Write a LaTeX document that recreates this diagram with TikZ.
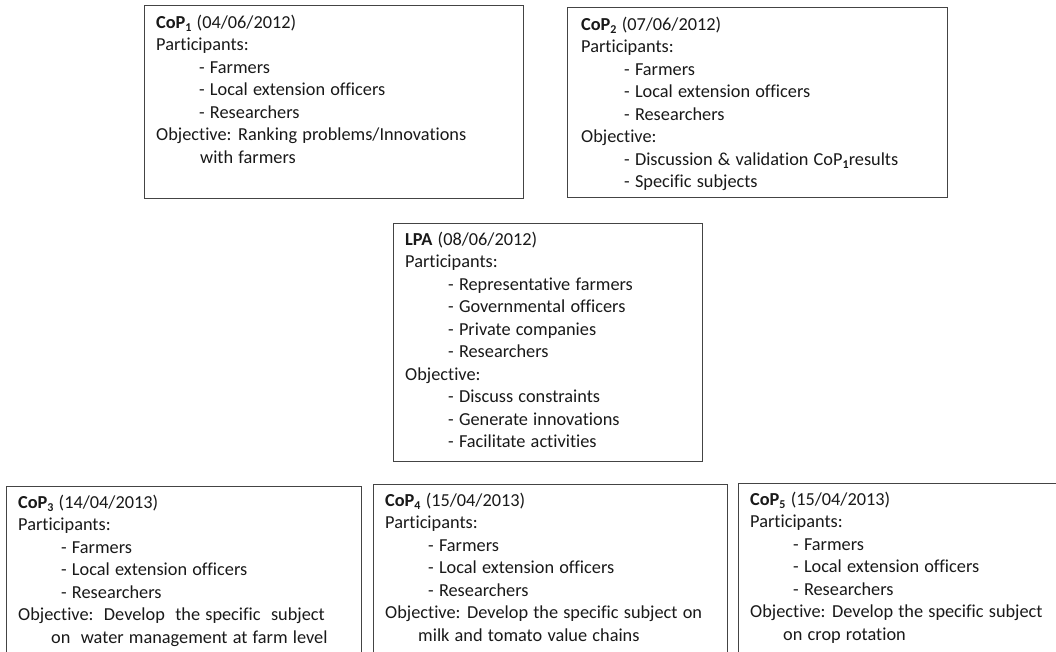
\documentclass[tikz,border=0pt]{standalone}
\usepackage{fontspec}
\setmainfont{Carlito}[Ligatures={NoCommon,NoRare,NoContextual}]
\definecolor{bordergray}{RGB}{68,68,68}
\definecolor{textgray}{RGB}{25,25,25}
\newcommand{\ind}{\hspace*{43pt}}
\newcommand{\cnt}{\hspace*{44pt}}
\newcommand{\cntb}{\hspace*{33pt}}
\newcommand{\first}{\rule{0pt}{15pt}}
\newcommand{\boxfont}{\fontsize{18.3}{22.5}\selectfont\spaceskip=5.2pt plus 1pt minus 0.5pt\relax}
\newcommand{\sbs}[1]{\raisebox{-3.2pt}{\fontsize{12}{12}\selectfont\bfseries #1}}
\begin{document}
\begin{tikzpicture}[x=1pt,y=-1pt,
  box/.style={draw=bordergray, line width=1.4pt, rectangle, inner sep=0pt, anchor=north west},
  txt/.style={anchor=north west, inner sep=0pt, align=left, text=textgray,
              font=\boxfont}]
\clip (0,0) rectangle (1056,651);
\fill[white] (0,0) rectangle (1056,651);

% boxes
\node[box, minimum width=379pt, minimum height=193pt] (cop1) at (144,5) {};
\node[box, minimum width=380pt, minimum height=190pt] (cop2) at (567,7) {};
\node[box, minimum width=309pt, minimum height=238pt] (lpa) at (393,223) {};
\node[box, minimum width=355pt, minimum height=200pt] (cop3) at (6,486) {};
\node[box, minimum width=354pt, minimum height=200pt] (cop4) at (373,484) {};
\node[box, minimum width=330pt, minimum height=200pt] (cop5) at (738,483) {};

% texts
\node[txt] (cop1t) at (156,13) {\first\textbf{CoP\sbs{1}} (04/06/2012)\\
Participants:\\
\ind- Farmers\\
\ind- Local extension officers\\
\ind- Researchers\\
Objective: Ranking problems/Innovations\\
\cnt with farmers};

\node[txt] (cop2t) at (581,15) {\first\textbf{CoP\sbs{2}} (07/06/2012)\\
Participants:\\
\ind- Farmers\\
\ind- Local extension officers\\
\ind- Researchers\\
Objective:\\
\ind- Discussion \& validation CoP\sbs{1}results\\
\ind- Specific subjects};

\node[txt] (lpat) at (405,230) {\first\textbf{LPA} (08/06/2012)\\
Participants:\\
\ind- Representative farmers\\
\ind- Governmental officers\\
\ind- Private companies\\
\ind- Researchers\\
Objective:\\
\ind- Discuss constraints\\
\ind- Generate innovations\\
\ind- Facilitate activities};

\node[txt] (cop3t) at (18,493) {\first\textbf{CoP\sbs{3}} (14/04/2013)\\
Participants:\\
\ind- Farmers\\
\ind- Local extension officers\\
\ind- Researchers\\
Objective:\ \ Develop\ \ the specific\ \ subject\\
\cntb on\ \ water management at farm level};

\node[txt] (cop4t) at (385,491) {\first\textbf{CoP\sbs{4}} (15/04/2013)\\
Participants:\\
\ind- Farmers\\
\ind- Local extension officers\\
\ind- Researchers\\
Objective: Develop the specific subject on\\
\cntb milk and tomato value chains};

\node[txt] (cop5t) at (750,490) {\first\textbf{CoP\sbs{5}} (15/04/2013)\\
Participants:\\
\ind- Farmers\\
\ind- Local extension officers\\
\ind- Researchers\\
Objective: Develop the specific subject\\
\cntb on crop rotation};
\end{tikzpicture}
\end{document}
